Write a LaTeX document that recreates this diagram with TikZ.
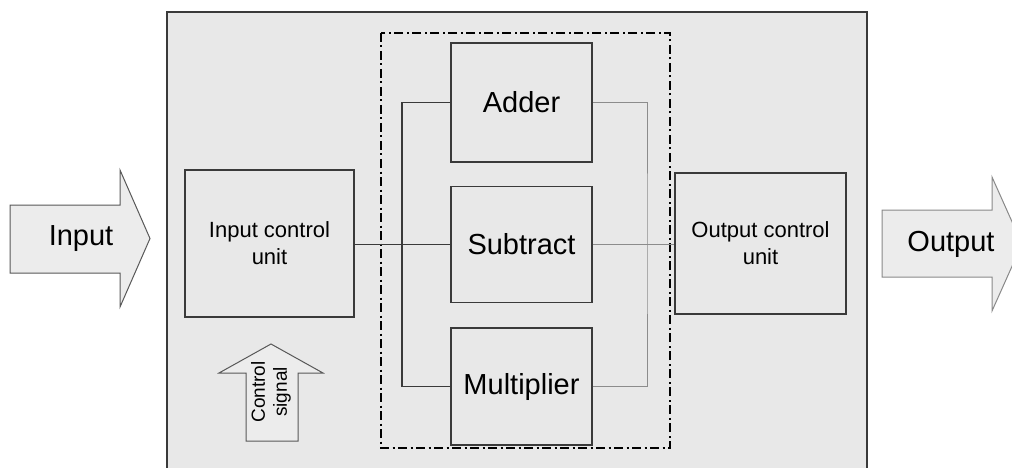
\documentclass[tikz,border=0pt]{standalone}
\usepackage{fontspec}
\setmainfont{Liberation Sans}
\usetikzlibrary{positioning}
\definecolor{panel}{HTML}{E8E8E8}
\definecolor{arrowfill}{HTML}{ECECEC}
\definecolor{edge}{HTML}{3A3A3A}
\definecolor{wire}{HTML}{8C8C8C}

\tikzset{
  unit/.style={draw=edge,line width=1.5pt,fill=panel,inner sep=0pt,align=center,
    font=\fontsize{22}{27}\selectfont},
  opbox/.style={unit,minimum width=141pt,font=\fontsize{29}{34}\selectfont},
  bigarrow/.style={draw=edge!85,line width=1pt,fill=arrowfill},
  wireline/.style={draw=edge,line width=1.3pt},
  paleline/.style={draw=wire,line width=1pt},
}

\begin{document}
\begin{tikzpicture}[x=1pt,y=-1pt]
  \useasboundingbox (0,0) rectangle (1012,468);
  % outer frame and the arithmetic block
  \draw[edge,line width=2pt,fill=panel] (167,12) rectangle (867,471);
  \draw[black,line width=2.2pt,dash pattern=on 9pt off 3.5pt on 2pt off 3.5pt]
    (381,33) rectangle (670,448);

  % input / output arrows
  \draw[bigarrow] (10,205) -- (120,205) -- (120,170) -- (150,238.5) -- (120,307)
    -- (120,273) -- (10,273) -- cycle;
  \node[font=\fontsize{29}{34}\selectfont] (inlabel) at (81,239) {Input};
  \draw[bigarrow,draw=edge!60] (882,210) -- (992,210) -- (992,177) -- (1022,244)
    -- (992,311) -- (992,277) -- (882,277) -- cycle;
  \node[font=\fontsize{29}{34}\selectfont] (outlabel) at (951,244) {Output};
  \draw[bigarrow] (246,441) -- (246,373) -- (219,373) -- (271,344) -- (323,373)
    -- (298,373) -- (298,441) -- cycle;
  \node[rotate=90,align=center,font=\fontsize{19}{22}\selectfont] (ctrl) at (271,392)
    {Control\\signal};

  % units
  \node[unit,minimum width=169pt,minimum height=147pt] (inctrl) at (269.5,243.5)
    {Input control\\unit};
  \node[unit,minimum width=171pt,minimum height=141pt] (outctrl) at (760.5,243.5)
    {Output control\\unit};
  \node[opbox,minimum height=119pt] (adder) at (521.5,102.5) {Adder};
  \node[opbox,minimum height=116pt,below=23pt of adder] (sub) {Subtract};
  \node[opbox,minimum height=117pt,below=24pt of sub] (mult) {Multiplier};

  % wiring
  \coordinate (lbus) at (402,243);
  \coordinate (rbus) at (647,243);
  \draw[wireline] (inctrl.east |- sub.west) -- (sub.west);
  \draw[wireline] (adder.west) -| (lbus) |- (mult.west);
  \draw[paleline] (adder.east) -| (rbus) |- (mult.east);
  \draw[paleline] (sub.east) -- (outctrl.west |- sub.east);
\end{tikzpicture}
\end{document}
